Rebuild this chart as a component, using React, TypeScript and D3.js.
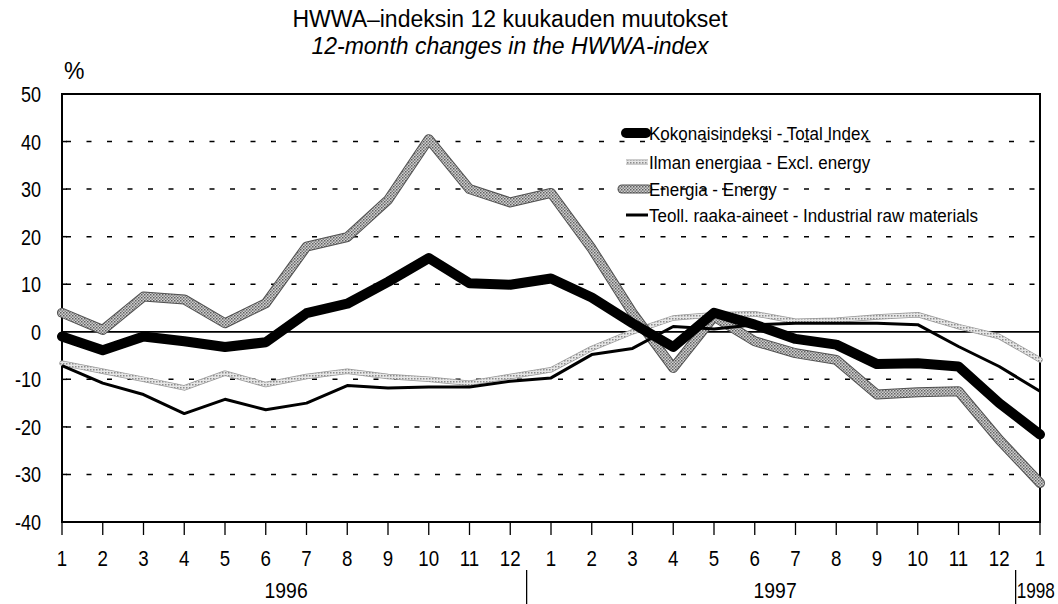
import React, { useEffect, useRef } from "react"
import * as d3 from "d3"

const monthLabels = ["1","2","3","4","5","6","7","8","9","10","11","12","1","2","3","4","5","6","7","8","9","10","11","12","1"]
const yearLabels = [
  { label: "1996", at: 5.5 },
  { label: "1997", at: 17.5 },
  { label: "1998", at: 24 },
]
const yearSeparators = [11.5, 23.5]
const yTicks = [50, 40, 30, 20, 10, 0, -10, -20, -30, -40]

const totalIndex = [-1, -3.9, -1, -2, -3.2, -2.2, 3.9, 5.9, 10.5, 15.5, 10.2, 9.9, 11.2, 7.2, 1.8, -3.2, 4, 1.5, -1.5, -2.7, -6.8, -6.6, -7.3, -15, -21.6]
const exclEnergy = [-6.6, -8.3, -10, -11.8, -8.7, -11.1, -9.4, -8.3, -9.4, -10, -10.8, -9.4, -8, -3.5, 0, 2.9, 3.6, 3.8, 2.2, 2.4, 3.1, 3.6, 1.1, -1, -5.9]
const energy = [4, 0.4, 7.4, 6.8, 1.8, 6, 17.9, 19.9, 27.7, 40.5, 30, 27.2, 29.2, 17.5, 4, -7.6, 3.2, -2, -4.5, -5.9, -13.2, -12.7, -12.5, -22.7, -31.8]
const rawMaterials = [-7.1, -10.8, -13.2, -17.2, -14.2, -16.4, -15, -11.3, -11.8, -11.6, -11.6, -10.4, -9.7, -4.8, -3.5, 1.1, 0.6, 1.5, 1.8, 1.8, 1.8, 1.5, -3.1, -7.3, -12.5]

const legendNames = [
  "Kokonaisindeksi - Total Index",
  "Ilman energiaa - Excl. energy",
  "Energia - Energy",
  "Teoll. raaka-aineet - Industrial raw materials",
]

const FONT = "'Liberation Sans', Arial, Helvetica, sans-serif"

export default function App() {
  const ref = useRef<SVGSVGElement>(null)

  useEffect(() => {
    const svg = d3.select(ref.current)
    svg.selectAll("*").remove()

    const left = 62, right = 1040, top = 94, bottom = 522
    const x = d3.scaleLinear().domain([0, 24]).range([left, right])
    const y = d3.scaleLinear().domain([-40, 50]).range([bottom, top])

    const defs = svg.append("defs")
    const p1 = defs.append("pattern").attr("id", "hatchDark")
      .attr("width", 3).attr("height", 3).attr("patternUnits", "userSpaceOnUse")
    p1.append("rect").attr("width", 3).attr("height", 3).attr("fill", "#d0d0d0")
    p1.append("rect").attr("width", 1.5).attr("height", 1.5).attr("fill", "#606060")
    p1.append("rect").attr("x", 1.5).attr("y", 1.5).attr("width", 1.5).attr("height", 1.5).attr("fill", "#808080")
    const p2 = defs.append("pattern").attr("id", "hatchLight")
      .attr("width", 3).attr("height", 3).attr("patternUnits", "userSpaceOnUse")
    p2.append("rect").attr("width", 3).attr("height", 3).attr("fill", "#e6e6e6")
    p2.append("rect").attr("width", 1.5).attr("height", 1.5).attr("fill", "#8c8c8c")

    // titles
    svg.append("text").text("HWWA\u2013indeksin 12 kuukauden muutokset")
      .attr("x", 510).attr("y", 27).attr("text-anchor", "middle")
      .attr("font-family", FONT).attr("font-size", 23)
    svg.append("text").text("12-month changes in the HWWA-index")
      .attr("x", 510).attr("y", 54).attr("text-anchor", "middle")
      .attr("font-family", FONT).attr("font-size", 23).attr("font-style", "italic")
    svg.append("text").text("%")
      .attr("x", 64).attr("y", 79)
      .attr("font-family", FONT).attr("font-size", 23)

    // gridlines
    svg.append("g").selectAll("line")
      .data(yTicks.filter(d => d !== 0 && d !== 50 && d !== -40))
      .enter().append("line")
      .attr("x1", left + 4).attr("x2", right)
      .attr("y1", d => y(d)).attr("y2", d => y(d))
      .attr("stroke", "#000").attr("stroke-width", 1.5)
      .attr("stroke-dasharray", "5 15.5")

    // y labels
    svg.append("g").selectAll("text")
      .data(yTicks).enter().append("text")
      .text(d => String(d))
      .attr("transform", d => `translate(41,${y(d) + 8}) scale(0.82,1)`)
      .attr("text-anchor", "end")
      .attr("font-family", FONT).attr("font-size", 22)

    // small ticks on left axis
    svg.append("g").selectAll("line")
      .data(yTicks).enter().append("line")
      .attr("x1", left).attr("x2", left + 5)
      .attr("y1", d => y(d)).attr("y2", d => y(d))
      .attr("stroke", "#000").attr("stroke-width", 1.5)

    // zero line
    svg.append("line")
      .attr("x1", left).attr("x2", right).attr("y1", y(0)).attr("y2", y(0))
      .attr("stroke", "#000").attr("stroke-width", 1.8)

    // frame
    svg.append("rect")
      .attr("x", left).attr("y", top).attr("width", right - left).attr("height", bottom - top)
      .attr("fill", "none").attr("stroke", "#000").attr("stroke-width", 2)

    // x ticks
    svg.append("g").selectAll("line")
      .data(monthLabels).enter().append("line")
      .attr("x1", (d, i) => x(i)).attr("x2", (d, i) => x(i))
      .attr("y1", bottom).attr("y2", bottom + 13)
      .attr("stroke", "#000").attr("stroke-width", 1.3)
    svg.append("g").selectAll("text")
      .data(monthLabels).enter().append("text")
      .text(d => d)
      .attr("transform", (d, i) => `translate(${x(i)},566) scale(0.85,1)`)
      .attr("text-anchor", "middle")
      .attr("font-family", FONT).attr("font-size", 22)

    // years; the last one starts at its separator and is squeezed to fit
    svg.append("g").selectAll("text")
      .data(yearLabels).enter().append("text")
      .text(d => d.label)
      .attr("transform", d => d.at === 24
        ? `translate(${x(23.5) - 3},598) scale(0.78,1)`
        : `translate(${x(d.at)},598) scale(0.88,1)`)
      .attr("text-anchor", d => d.at === 24 ? "start" : "middle")
      .attr("font-family", FONT).attr("font-size", 22)
    svg.append("g").selectAll("line")
      .data(yearSeparators).enter().append("line")
      .attr("x1", d => x(d) - 4).attr("x2", d => x(d) - 4)
      .attr("y1", 570).attr("y2", 604)
      .attr("stroke", "#000").attr("stroke-width", 1.3)

    const line = d3.line<number>().x((d, i) => x(i)).y(d => y(d))

    const plot = svg.append("g")
    // excl. energy
    plot.append("path").attr("d", line(exclEnergy)).attr("fill", "none")
      .attr("stroke", "#9a9a9a").attr("stroke-width", 5.5)
      .attr("stroke-linejoin", "round").attr("stroke-linecap", "round")
    plot.append("path").attr("d", line(exclEnergy)).attr("fill", "none")
      .attr("stroke", "url(#hatchLight)").attr("stroke-width", 4)
      .attr("stroke-linejoin", "round").attr("stroke-linecap", "round")
    // energy
    plot.append("path").attr("d", line(energy)).attr("fill", "none")
      .attr("stroke", "#505050").attr("stroke-width", 10)
      .attr("stroke-linejoin", "round").attr("stroke-linecap", "round")
    plot.append("path").attr("d", line(energy)).attr("fill", "none")
      .attr("stroke", "url(#hatchDark)").attr("stroke-width", 8)
      .attr("stroke-linejoin", "round").attr("stroke-linecap", "round")
    // raw materials
    plot.append("path").attr("d", line(rawMaterials)).attr("fill", "none")
      .attr("stroke", "#000").attr("stroke-width", 3)
      .attr("stroke-linejoin", "round")
    // total
    plot.append("path").attr("d", line(totalIndex)).attr("fill", "none")
      .attr("stroke", "#000").attr("stroke-width", 10)
      .attr("stroke-linejoin", "round").attr("stroke-linecap", "round")

    // legend
    const legendRows = [133, 162, 189, 215]
    const lg = svg.append("g")
    legendNames.forEach((name, i) => {
      const ly = legendRows[i]
      const x1 = i === 2 ? 622 : 626
      if (i === 0) {
        lg.append("line").attr("x1", x1).attr("x2", 646).attr("y1", ly).attr("y2", ly)
          .attr("stroke", "#000").attr("stroke-width", 10).attr("stroke-linecap", "round")
      } else if (i === 1) {
        lg.append("line").attr("x1", x1).attr("x2", 648).attr("y1", ly).attr("y2", ly)
          .attr("stroke", "#9a9a9a").attr("stroke-width", 5)
        lg.append("line").attr("x1", x1).attr("x2", 648).attr("y1", ly).attr("y2", ly)
          .attr("stroke", "url(#hatchLight)").attr("stroke-width", 3.5)
      } else if (i === 2) {
        lg.append("line").attr("x1", x1).attr("x2", 648).attr("y1", ly).attr("y2", ly)
          .attr("stroke", "#505050").attr("stroke-width", 9).attr("stroke-linecap", "round")
        lg.append("line").attr("x1", x1).attr("x2", 648).attr("y1", ly).attr("y2", ly)
          .attr("stroke", "url(#hatchDark)").attr("stroke-width", 7).attr("stroke-linecap", "round")
      } else {
        lg.append("line").attr("x1", x1).attr("x2", 648).attr("y1", ly).attr("y2", ly)
          .attr("stroke", "#000").attr("stroke-width", 3)
      }
      lg.append("text").text(name)
        .attr("transform", `translate(649,${ly + 7}) scale(0.92,1)`)
        .attr("font-family", FONT).attr("font-size", 18.5)
    })
  }, [])

  return (
    <svg ref={ref} width={1058} height={604}
      style={{ position: "absolute", left: 0, top: 0, background: "#fff" }} />
  )
}
